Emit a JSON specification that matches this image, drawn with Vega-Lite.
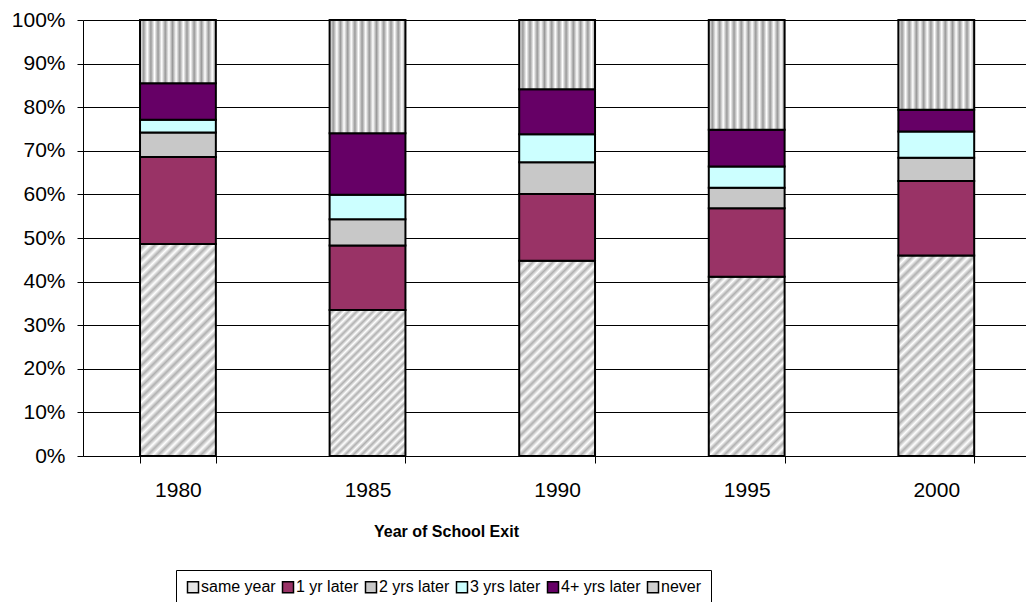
{
  "$schema": "https://vega.github.io/schema/vega-lite/v6.json",
  "autosize": {"type": "none"},
  "padding": {"left": 83, "top": 20, "right": 0, "bottom": 146},
  "width": 943,
  "height": 436,
  "background": "#ffffff",
  "data": {
    "values": [
      {"year": 1980, "cat": "same year", "pct": 48.6},
      {"year": 1980, "cat": "1 yr later", "pct": 20.0},
      {"year": 1980, "cat": "2 yrs later", "pct": 5.6},
      {"year": 1980, "cat": "3 yrs later", "pct": 2.9},
      {"year": 1980, "cat": "4+ yrs later", "pct": 8.4},
      {"year": 1980, "cat": "never", "pct": 14.5},
      {"year": 1985, "cat": "same year", "pct": 33.5},
      {"year": 1985, "cat": "1 yr later", "pct": 14.8},
      {"year": 1985, "cat": "2 yrs later", "pct": 6.0},
      {"year": 1985, "cat": "3 yrs later", "pct": 5.6},
      {"year": 1985, "cat": "4+ yrs later", "pct": 14.1},
      {"year": 1985, "cat": "never", "pct": 26.0},
      {"year": 1990, "cat": "same year", "pct": 44.8},
      {"year": 1990, "cat": "1 yr later", "pct": 15.3},
      {"year": 1990, "cat": "2 yrs later", "pct": 7.3},
      {"year": 1990, "cat": "3 yrs later", "pct": 6.4},
      {"year": 1990, "cat": "4+ yrs later", "pct": 10.3},
      {"year": 1990, "cat": "never", "pct": 15.9},
      {"year": 1995, "cat": "same year", "pct": 41.1},
      {"year": 1995, "cat": "1 yr later", "pct": 15.7},
      {"year": 1995, "cat": "2 yrs later", "pct": 4.7},
      {"year": 1995, "cat": "3 yrs later", "pct": 4.9},
      {"year": 1995, "cat": "4+ yrs later", "pct": 8.4},
      {"year": 1995, "cat": "never", "pct": 25.2},
      {"year": 2000, "cat": "same year", "pct": 46.0},
      {"year": 2000, "cat": "1 yr later", "pct": 17.1},
      {"year": 2000, "cat": "2 yrs later", "pct": 5.3},
      {"year": 2000, "cat": "3 yrs later", "pct": 6.0},
      {"year": 2000, "cat": "4+ yrs later", "pct": 5.0},
      {"year": 2000, "cat": "never", "pct": 20.6}
    ]
  },
  "transform": [
    {"calculate": "indexof(['same year', '1 yr later', '2 yrs later', '3 yrs later', '4+ yrs later', 'never'], datum.cat)", "as": "stackrank"}
  ],
  "mark": {"type": "bar", "stroke": "#000000", "strokeWidth": 2},
  "encoding": {
    "x": {
      "field": "year",
      "type": "ordinal",
      "scale": {"paddingInner": 0.6, "paddingOuter": 0.287, "align": 0.524},
      "axis": {
        "title": "Year of School Exit",
        "labelAngle": 0,
        "tickBand": "extent",
        "grid": false,
        "domainColor": "#000000",
        "tickColor": "#000000",
        "tickSize": 7,
        "labelPadding": 16,
        "labelFontSize": 21,
        "labelColor": "#000000",
        "titleFontSize": 16,
        "titleFontWeight": "bold",
        "titleColor": "#000000",
        "titleX": 363,
        "titleY": 80,
        "titleAlign": "center",
        "titleBaseline": "alphabetic"
      }
    },
    "y": {
      "field": "pct",
      "type": "quantitative",
      "stack": "normalize",
      "scale": {"domain": [0, 1]},
      "axis": {
        "title": null,
        "format": "%",
        "values": [0, 0.1, 0.2, 0.3, 0.4, 0.5, 0.6, 0.7, 0.8, 0.9, 1],
        "grid": true,
        "gridColor": "#000000",
        "gridWidth": 1,
        "domainColor": "#000000",
        "tickColor": "#000000",
        "tickSize": 6,
        "labelPadding": 12,
        "labelFontSize": 21,
        "labelColor": "#000000"
      }
    },
    "order": {"field": "stackrank", "type": "quantitative", "sort": "ascending"},
    "fill": {
      "field": "cat",
      "type": "nominal",
      "sort": ["same year", "1 yr later", "2 yrs later", "3 yrs later", "4+ yrs later", "never"],
      "scale": {
        "domain": ["same year", "1 yr later", "2 yrs later", "3 yrs later", "4+ yrs later", "never"],
        "range": ["#e4e4e4", "#993366", "#c8c8c8", "#ccffff", "#660066", "#d0d0d0"]
      },
      "legend": {
        "title": null,
        "orient": "none",
        "legendX": 93,
        "legendY": 550,
        "direction": "horizontal",
        "strokeColor": "#000000",
        "fillColor": "#ffffff",
        "padding": 9,
        "symbolType": "square",
        "symbolSize": 121,
        "symbolStrokeColor": "#000000",
        "symbolStrokeWidth": 1.5,
        "labelFontSize": 16,
        "labelColor": "#000000",
        "labelOffset": 0,
        "columnPadding": 3
      },
      "condition": [
        {"test": "datum.cat === 'never'", "value": {"gradient": "linear", "x1": 0, "y1": 0, "x2": 1, "y2": 0, "stops": [{"offset":0,"color":"#ffffff"},{"offset":0.0476,"color":"#999999"},{"offset":0.0952,"color":"#ffffff"},{"offset":0.1429,"color":"#999999"},{"offset":0.1905,"color":"#ffffff"},{"offset":0.2381,"color":"#999999"},{"offset":0.2857,"color":"#ffffff"},{"offset":0.3333,"color":"#999999"},{"offset":0.381,"color":"#ffffff"},{"offset":0.4286,"color":"#999999"},{"offset":0.4762,"color":"#ffffff"},{"offset":0.5238,"color":"#999999"},{"offset":0.5714,"color":"#ffffff"},{"offset":0.619,"color":"#999999"},{"offset":0.6667,"color":"#ffffff"},{"offset":0.7143,"color":"#999999"},{"offset":0.7619,"color":"#ffffff"},{"offset":0.8095,"color":"#999999"},{"offset":0.8571,"color":"#ffffff"},{"offset":0.9048,"color":"#999999"},{"offset":0.9524,"color":"#ffffff"},{"offset":1,"color":"#999999"}]}},
        {"test": "datum.cat === 'same year' && datum.year === 1980", "value": {"gradient": "linear", "x1": 0, "y1": 0, "x2": 0.4308, "y2": 1.2037, "stops": [{"offset":0,"color":"#fff"},{"offset":0.0185,"color":"#b0b0b0"},{"offset":0.037,"color":"#fff"},{"offset":0.0556,"color":"#b0b0b0"},{"offset":0.0741,"color":"#fff"},{"offset":0.0926,"color":"#b0b0b0"},{"offset":0.1111,"color":"#fff"},{"offset":0.1296,"color":"#b0b0b0"},{"offset":0.1481,"color":"#fff"},{"offset":0.1667,"color":"#b0b0b0"},{"offset":0.1852,"color":"#fff"},{"offset":0.2037,"color":"#b0b0b0"},{"offset":0.2222,"color":"#fff"},{"offset":0.2407,"color":"#b0b0b0"},{"offset":0.2593,"color":"#fff"},{"offset":0.2778,"color":"#b0b0b0"},{"offset":0.2963,"color":"#fff"},{"offset":0.3148,"color":"#b0b0b0"},{"offset":0.3333,"color":"#fff"},{"offset":0.3519,"color":"#b0b0b0"},{"offset":0.3704,"color":"#fff"},{"offset":0.3889,"color":"#b0b0b0"},{"offset":0.4074,"color":"#fff"},{"offset":0.4259,"color":"#b0b0b0"},{"offset":0.4444,"color":"#fff"},{"offset":0.463,"color":"#b0b0b0"},{"offset":0.4815,"color":"#fff"},{"offset":0.5,"color":"#b0b0b0"},{"offset":0.5185,"color":"#fff"},{"offset":0.537,"color":"#b0b0b0"},{"offset":0.5556,"color":"#fff"},{"offset":0.5741,"color":"#b0b0b0"},{"offset":0.5926,"color":"#fff"},{"offset":0.6111,"color":"#b0b0b0"},{"offset":0.6296,"color":"#fff"},{"offset":0.6481,"color":"#b0b0b0"},{"offset":0.6667,"color":"#fff"},{"offset":0.6852,"color":"#b0b0b0"},{"offset":0.7037,"color":"#fff"},{"offset":0.7222,"color":"#b0b0b0"},{"offset":0.7407,"color":"#fff"},{"offset":0.7593,"color":"#b0b0b0"},{"offset":0.7778,"color":"#fff"},{"offset":0.7963,"color":"#b0b0b0"},{"offset":0.8148,"color":"#fff"},{"offset":0.8333,"color":"#b0b0b0"},{"offset":0.8519,"color":"#fff"},{"offset":0.8704,"color":"#b0b0b0"},{"offset":0.8889,"color":"#fff"},{"offset":0.9074,"color":"#b0b0b0"},{"offset":0.9259,"color":"#fff"},{"offset":0.9444,"color":"#b0b0b0"},{"offset":0.963,"color":"#fff"},{"offset":0.9815,"color":"#b0b0b0"},{"offset":1,"color":"#fff"}]}},
        {"test": "datum.cat === 'same year' && datum.year === 1985", "value": {"gradient": "linear", "x1": 0, "y1": 0, "x2": 0.6212, "y2": 1.1966, "stops": [{"offset":0,"color":"#fff"},{"offset":0.0185,"color":"#b0b0b0"},{"offset":0.037,"color":"#fff"},{"offset":0.0556,"color":"#b0b0b0"},{"offset":0.0741,"color":"#fff"},{"offset":0.0926,"color":"#b0b0b0"},{"offset":0.1111,"color":"#fff"},{"offset":0.1296,"color":"#b0b0b0"},{"offset":0.1481,"color":"#fff"},{"offset":0.1667,"color":"#b0b0b0"},{"offset":0.1852,"color":"#fff"},{"offset":0.2037,"color":"#b0b0b0"},{"offset":0.2222,"color":"#fff"},{"offset":0.2407,"color":"#b0b0b0"},{"offset":0.2593,"color":"#fff"},{"offset":0.2778,"color":"#b0b0b0"},{"offset":0.2963,"color":"#fff"},{"offset":0.3148,"color":"#b0b0b0"},{"offset":0.3333,"color":"#fff"},{"offset":0.3519,"color":"#b0b0b0"},{"offset":0.3704,"color":"#fff"},{"offset":0.3889,"color":"#b0b0b0"},{"offset":0.4074,"color":"#fff"},{"offset":0.4259,"color":"#b0b0b0"},{"offset":0.4444,"color":"#fff"},{"offset":0.463,"color":"#b0b0b0"},{"offset":0.4815,"color":"#fff"},{"offset":0.5,"color":"#b0b0b0"},{"offset":0.5185,"color":"#fff"},{"offset":0.537,"color":"#b0b0b0"},{"offset":0.5556,"color":"#fff"},{"offset":0.5741,"color":"#b0b0b0"},{"offset":0.5926,"color":"#fff"},{"offset":0.6111,"color":"#b0b0b0"},{"offset":0.6296,"color":"#fff"},{"offset":0.6481,"color":"#b0b0b0"},{"offset":0.6667,"color":"#fff"},{"offset":0.6852,"color":"#b0b0b0"},{"offset":0.7037,"color":"#fff"},{"offset":0.7222,"color":"#b0b0b0"},{"offset":0.7407,"color":"#fff"},{"offset":0.7593,"color":"#b0b0b0"},{"offset":0.7778,"color":"#fff"},{"offset":0.7963,"color":"#b0b0b0"},{"offset":0.8148,"color":"#fff"},{"offset":0.8333,"color":"#b0b0b0"},{"offset":0.8519,"color":"#fff"},{"offset":0.8704,"color":"#b0b0b0"},{"offset":0.8889,"color":"#fff"},{"offset":0.9074,"color":"#b0b0b0"},{"offset":0.9259,"color":"#fff"},{"offset":0.9444,"color":"#b0b0b0"},{"offset":0.963,"color":"#fff"},{"offset":0.9815,"color":"#b0b0b0"},{"offset":1,"color":"#fff"}]}},
        {"test": "datum.cat === 'same year' && datum.year === 1990", "value": {"gradient": "linear", "x1": 0, "y1": 0, "x2": 0.4685, "y2": 1.2064, "stops": [{"offset":0,"color":"#fff"},{"offset":0.0185,"color":"#b0b0b0"},{"offset":0.037,"color":"#fff"},{"offset":0.0556,"color":"#b0b0b0"},{"offset":0.0741,"color":"#fff"},{"offset":0.0926,"color":"#b0b0b0"},{"offset":0.1111,"color":"#fff"},{"offset":0.1296,"color":"#b0b0b0"},{"offset":0.1481,"color":"#fff"},{"offset":0.1667,"color":"#b0b0b0"},{"offset":0.1852,"color":"#fff"},{"offset":0.2037,"color":"#b0b0b0"},{"offset":0.2222,"color":"#fff"},{"offset":0.2407,"color":"#b0b0b0"},{"offset":0.2593,"color":"#fff"},{"offset":0.2778,"color":"#b0b0b0"},{"offset":0.2963,"color":"#fff"},{"offset":0.3148,"color":"#b0b0b0"},{"offset":0.3333,"color":"#fff"},{"offset":0.3519,"color":"#b0b0b0"},{"offset":0.3704,"color":"#fff"},{"offset":0.3889,"color":"#b0b0b0"},{"offset":0.4074,"color":"#fff"},{"offset":0.4259,"color":"#b0b0b0"},{"offset":0.4444,"color":"#fff"},{"offset":0.463,"color":"#b0b0b0"},{"offset":0.4815,"color":"#fff"},{"offset":0.5,"color":"#b0b0b0"},{"offset":0.5185,"color":"#fff"},{"offset":0.537,"color":"#b0b0b0"},{"offset":0.5556,"color":"#fff"},{"offset":0.5741,"color":"#b0b0b0"},{"offset":0.5926,"color":"#fff"},{"offset":0.6111,"color":"#b0b0b0"},{"offset":0.6296,"color":"#fff"},{"offset":0.6481,"color":"#b0b0b0"},{"offset":0.6667,"color":"#fff"},{"offset":0.6852,"color":"#b0b0b0"},{"offset":0.7037,"color":"#fff"},{"offset":0.7222,"color":"#b0b0b0"},{"offset":0.7407,"color":"#fff"},{"offset":0.7593,"color":"#b0b0b0"},{"offset":0.7778,"color":"#fff"},{"offset":0.7963,"color":"#b0b0b0"},{"offset":0.8148,"color":"#fff"},{"offset":0.8333,"color":"#b0b0b0"},{"offset":0.8519,"color":"#fff"},{"offset":0.8704,"color":"#b0b0b0"},{"offset":0.8889,"color":"#fff"},{"offset":0.9074,"color":"#b0b0b0"},{"offset":0.9259,"color":"#fff"},{"offset":0.9444,"color":"#b0b0b0"},{"offset":0.963,"color":"#fff"},{"offset":0.9815,"color":"#b0b0b0"},{"offset":1,"color":"#fff"}]}},
        {"test": "datum.cat === 'same year' && datum.year === 1995", "value": {"gradient": "linear", "x1": 0, "y1": 0, "x2": 0.5108, "y2": 1.207, "stops": [{"offset":0,"color":"#fff"},{"offset":0.0185,"color":"#b0b0b0"},{"offset":0.037,"color":"#fff"},{"offset":0.0556,"color":"#b0b0b0"},{"offset":0.0741,"color":"#fff"},{"offset":0.0926,"color":"#b0b0b0"},{"offset":0.1111,"color":"#fff"},{"offset":0.1296,"color":"#b0b0b0"},{"offset":0.1481,"color":"#fff"},{"offset":0.1667,"color":"#b0b0b0"},{"offset":0.1852,"color":"#fff"},{"offset":0.2037,"color":"#b0b0b0"},{"offset":0.2222,"color":"#fff"},{"offset":0.2407,"color":"#b0b0b0"},{"offset":0.2593,"color":"#fff"},{"offset":0.2778,"color":"#b0b0b0"},{"offset":0.2963,"color":"#fff"},{"offset":0.3148,"color":"#b0b0b0"},{"offset":0.3333,"color":"#fff"},{"offset":0.3519,"color":"#b0b0b0"},{"offset":0.3704,"color":"#fff"},{"offset":0.3889,"color":"#b0b0b0"},{"offset":0.4074,"color":"#fff"},{"offset":0.4259,"color":"#b0b0b0"},{"offset":0.4444,"color":"#fff"},{"offset":0.463,"color":"#b0b0b0"},{"offset":0.4815,"color":"#fff"},{"offset":0.5,"color":"#b0b0b0"},{"offset":0.5185,"color":"#fff"},{"offset":0.537,"color":"#b0b0b0"},{"offset":0.5556,"color":"#fff"},{"offset":0.5741,"color":"#b0b0b0"},{"offset":0.5926,"color":"#fff"},{"offset":0.6111,"color":"#b0b0b0"},{"offset":0.6296,"color":"#fff"},{"offset":0.6481,"color":"#b0b0b0"},{"offset":0.6667,"color":"#fff"},{"offset":0.6852,"color":"#b0b0b0"},{"offset":0.7037,"color":"#fff"},{"offset":0.7222,"color":"#b0b0b0"},{"offset":0.7407,"color":"#fff"},{"offset":0.7593,"color":"#b0b0b0"},{"offset":0.7778,"color":"#fff"},{"offset":0.7963,"color":"#b0b0b0"},{"offset":0.8148,"color":"#fff"},{"offset":0.8333,"color":"#b0b0b0"},{"offset":0.8519,"color":"#fff"},{"offset":0.8704,"color":"#b0b0b0"},{"offset":0.8889,"color":"#fff"},{"offset":0.9074,"color":"#b0b0b0"},{"offset":0.9259,"color":"#fff"},{"offset":0.9444,"color":"#b0b0b0"},{"offset":0.963,"color":"#fff"},{"offset":0.9815,"color":"#b0b0b0"},{"offset":1,"color":"#fff"}]}},
        {"test": "datum.cat === 'same year' && datum.year === 2000", "value": {"gradient": "linear", "x1": 0, "y1": 0, "x2": 0.4558, "y2": 1.2057, "stops": [{"offset":0,"color":"#fff"},{"offset":0.0185,"color":"#b0b0b0"},{"offset":0.037,"color":"#fff"},{"offset":0.0556,"color":"#b0b0b0"},{"offset":0.0741,"color":"#fff"},{"offset":0.0926,"color":"#b0b0b0"},{"offset":0.1111,"color":"#fff"},{"offset":0.1296,"color":"#b0b0b0"},{"offset":0.1481,"color":"#fff"},{"offset":0.1667,"color":"#b0b0b0"},{"offset":0.1852,"color":"#fff"},{"offset":0.2037,"color":"#b0b0b0"},{"offset":0.2222,"color":"#fff"},{"offset":0.2407,"color":"#b0b0b0"},{"offset":0.2593,"color":"#fff"},{"offset":0.2778,"color":"#b0b0b0"},{"offset":0.2963,"color":"#fff"},{"offset":0.3148,"color":"#b0b0b0"},{"offset":0.3333,"color":"#fff"},{"offset":0.3519,"color":"#b0b0b0"},{"offset":0.3704,"color":"#fff"},{"offset":0.3889,"color":"#b0b0b0"},{"offset":0.4074,"color":"#fff"},{"offset":0.4259,"color":"#b0b0b0"},{"offset":0.4444,"color":"#fff"},{"offset":0.463,"color":"#b0b0b0"},{"offset":0.4815,"color":"#fff"},{"offset":0.5,"color":"#b0b0b0"},{"offset":0.5185,"color":"#fff"},{"offset":0.537,"color":"#b0b0b0"},{"offset":0.5556,"color":"#fff"},{"offset":0.5741,"color":"#b0b0b0"},{"offset":0.5926,"color":"#fff"},{"offset":0.6111,"color":"#b0b0b0"},{"offset":0.6296,"color":"#fff"},{"offset":0.6481,"color":"#b0b0b0"},{"offset":0.6667,"color":"#fff"},{"offset":0.6852,"color":"#b0b0b0"},{"offset":0.7037,"color":"#fff"},{"offset":0.7222,"color":"#b0b0b0"},{"offset":0.7407,"color":"#fff"},{"offset":0.7593,"color":"#b0b0b0"},{"offset":0.7778,"color":"#fff"},{"offset":0.7963,"color":"#b0b0b0"},{"offset":0.8148,"color":"#fff"},{"offset":0.8333,"color":"#b0b0b0"},{"offset":0.8519,"color":"#fff"},{"offset":0.8704,"color":"#b0b0b0"},{"offset":0.8889,"color":"#fff"},{"offset":0.9074,"color":"#b0b0b0"},{"offset":0.9259,"color":"#fff"},{"offset":0.9444,"color":"#b0b0b0"},{"offset":0.963,"color":"#fff"},{"offset":0.9815,"color":"#b0b0b0"},{"offset":1,"color":"#fff"}]}}
      ]
    }
  },
  "config": {
    "font": "Liberation Sans",
    "view": {"stroke": null},
    "axis": {"labelFont": "Liberation Sans", "titleFont": "Liberation Sans"},
    "legend": {"labelFont": "Liberation Sans"}
  }
}
